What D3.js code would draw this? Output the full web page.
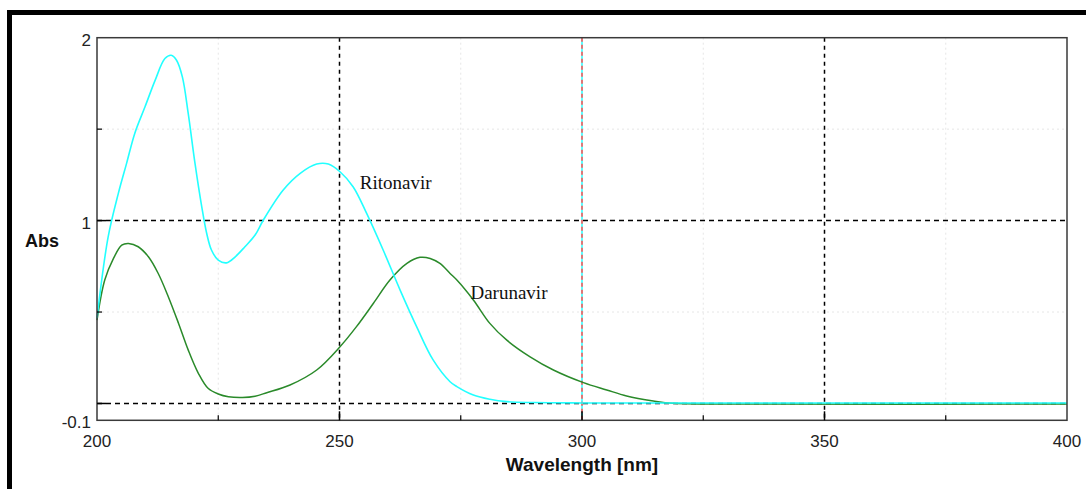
<!DOCTYPE html>
<html>
<head>
<meta charset="utf-8">
<script src="https://cdn.jsdelivr.net/npm/d3@7"></script>
<style>
  body { margin: 0; background: #fff; }
  svg { display: block; }
</style>
</head>
<body>
<div class="stage"></div>
<script>
// Ritonavir spectrum (cyan)
var ritWave = [200, 202.3, 204.4, 206.1, 207.8, 209.9, 212.0, 214.0, 215.3, 216.4, 217.6, 218.8, 220.2, 221.6, 222.6, 223.6, 225.0, 226.7, 228.5, 230.5, 232.6, 234.3, 238.4, 241.9, 245.3, 247.7, 250.1, 252.8, 255.6, 259.0, 262.5, 265.9, 269.3, 272.8, 274.2, 277.6, 281.0, 284.5, 290, 300, 350, 400];
var ritAbs  = [0.467, 0.911, 1.149, 1.313, 1.478, 1.622, 1.768, 1.886, 1.904, 1.877, 1.786, 1.587, 1.314, 1.075, 0.932, 0.839, 0.784, 0.769, 0.802, 0.857, 0.921, 1.003, 1.167, 1.258, 1.309, 1.309, 1.267, 1.185, 1.039, 0.839, 0.620, 0.420, 0.238, 0.119, 0.092, 0.046, 0.023, 0.010, 0.005, 0.003, 0.003, 0.003];

// Darunavir spectrum (green)
var darWave = [200, 201.6, 203.4, 205.1, 206.5, 208.5, 210.6, 212.6, 214.7, 216.8, 218.8, 220.9, 222.9, 225.0, 227.1, 230.0, 232.6, 235.0, 239.8, 245.3, 250.1, 253.5, 257.0, 260.4, 263.9, 266.6, 268.7, 270.7, 272.8, 274.2, 277.6, 281.0, 284.5, 289.3, 294.1, 300.3, 305.1, 309.2, 314.7, 318.8, 340, 400];
var darAbs  = [0.456, 0.675, 0.793, 0.866, 0.875, 0.857, 0.802, 0.712, 0.584, 0.439, 0.293, 0.165, 0.083, 0.052, 0.037, 0.033, 0.040, 0.059, 0.101, 0.183, 0.310, 0.420, 0.548, 0.675, 0.766, 0.799, 0.793, 0.766, 0.711, 0.675, 0.566, 0.438, 0.346, 0.255, 0.183, 0.114, 0.074, 0.041, 0.014, 0.001, -0.003, -0.003];

// axes
var xTicks = [200, 250, 300, 350, 400];
var xMinor = [225, 275, 325, 375];
var yTickValues = [-0.092, 1, 2];
var yTickLabels = ["-0.1", "1", "2"];
var yGrid = [0, 1];
var yMinor = [0.5, 1.5];
var markerWave = 300;

var labels = [
  {name: "Ritonavir", w: 254.2, a: 1.17},
  {name: "Darunavir", w: 277.0, a: 0.57}
];

var W = 1086, H = 489;
var margin = {top: 37.7, right: 19, bottom: 68.7, left: 97},
  width = W - margin.left - margin.right,
  height = H - margin.top - margin.bottom;

var svg = d3.select(".stage").append("svg")
  .attr("width", W)
  .attr("height", H);

// black frame of the window
svg.append("rect").attr("x", 7).attr("y", 10).attr("width", W - 7).attr("height", 5).attr("fill", "#000");
svg.append("rect").attr("x", 7).attr("y", 10).attr("width", 5).attr("height", H - 10).attr("fill", "#000");

var x = d3.scaleLinear()
  .domain([200, 400])
  .range([0, width]);

var y = d3.scaleLinear()
  .domain([-0.092, 2])
  .range([height, 0]);

var plot = svg.append("g")
  .attr("transform", "translate(" + margin.left + "," + margin.top + ")");

// faint minor grid
plot.selectAll(".vminor").data(xMinor).enter().append("line")
  .attr("x1", function(d) { return x(d); })
  .attr("x2", function(d) { return x(d); })
  .attr("y1", 0).attr("y2", height)
  .attr("stroke", "#e6e6e6").attr("stroke-width", 1)
  .attr("stroke-dasharray", "2,3");
plot.selectAll(".hminor").data(yMinor).enter().append("line")
  .attr("y1", function(d) { return y(d); })
  .attr("y2", function(d) { return y(d); })
  .attr("x1", 0).attr("x2", width)
  .attr("stroke", "#e6e6e6").attr("stroke-width", 1)
  .attr("stroke-dasharray", "2,3");

// dashed major grid
plot.selectAll(".vgrid").data([250, 350]).enter().append("line")
  .attr("x1", function(d) { return x(d); })
  .attr("x2", function(d) { return x(d); })
  .attr("y1", 0).attr("y2", height)
  .attr("stroke", "#000").attr("stroke-width", 1.5)
  .attr("stroke-dasharray", "4,4");
plot.selectAll(".hgrid").data(yGrid).enter().append("line")
  .attr("y1", function(d) { return y(d); })
  .attr("y2", function(d) { return y(d); })
  .attr("x1", 0).attr("x2", width)
  .attr("stroke", "#000").attr("stroke-width", 1.5)
  .attr("stroke-dasharray", "5,4");

// marker line at 300 nm (cyan under red dashes)
plot.append("line")
  .attr("x1", x(markerWave)).attr("x2", x(markerWave))
  .attr("y1", 0).attr("y2", height)
  .attr("stroke", "#33ffff").attr("stroke-width", 1.6);
plot.append("line")
  .attr("x1", x(markerWave)).attr("x2", x(markerWave))
  .attr("y1", 0).attr("y2", height)
  .attr("stroke", "#ff5555").attr("stroke-width", 1.6)
  .attr("stroke-dasharray", "4,3");

var line = d3.line()
  .curve(d3.curveCatmullRom.alpha(0.5))
  .x(function(d) { return x(d[0]); })
  .y(function(d) { return y(d[1]); });

plot.append("path")
  .datum(darWave.map(function(w, i) { return [w, darAbs[i]]; }))
  .attr("fill", "none")
  .attr("stroke", "#2a8a2a")
  .attr("stroke-width", 1.5)
  .attr("d", line);

plot.append("path")
  .datum(ritWave.map(function(w, i) { return [w, ritAbs[i]]; }))
  .attr("fill", "none")
  .attr("stroke", "#22ffff")
  .attr("stroke-width", 1.6)
  .attr("d", line);

// plot frame
plot.append("rect")
  .attr("width", width).attr("height", height)
  .attr("fill", "none")
  .attr("stroke", "#3a3a3a").attr("stroke-width", 1.5);

// ticks (inside)
plot.selectAll(".xt").data([250, 300, 350]).enter().append("line")
  .attr("x1", function(d) { return x(d); }).attr("x2", function(d) { return x(d); })
  .attr("y1", height).attr("y2", height - 9)
  .attr("stroke", "#000").attr("stroke-width", 1.5);
plot.selectAll(".xmt").data(xMinor).enter().append("line")
  .attr("x1", function(d) { return x(d); }).attr("x2", function(d) { return x(d); })
  .attr("y1", height).attr("y2", height - 5)
  .attr("stroke", "#000").attr("stroke-width", 1.2);
plot.selectAll(".yt").data(yGrid).enter().append("line")
  .attr("y1", function(d) { return y(d); }).attr("y2", function(d) { return y(d); })
  .attr("x1", 0).attr("x2", 9)
  .attr("stroke", "#000").attr("stroke-width", 1.5);
plot.selectAll(".ymt").data(yMinor).enter().append("line")
  .attr("y1", function(d) { return y(d); }).attr("y2", function(d) { return y(d); })
  .attr("x1", 0).attr("x2", 5)
  .attr("stroke", "#000").attr("stroke-width", 1.2);

// tick labels
plot.selectAll(".xlab").data(xTicks).enter().append("text")
  .attr("x", function(d) { return x(d); })
  .attr("y", height + 27)
  .attr("text-anchor", "middle")
  .attr("font-family", "Liberation Sans, Arial, sans-serif")
  .attr("font-size", "17px")
  .attr("fill", "#222")
  .text(function(d) { return d; });

plot.selectAll(".ylab").data(yTickValues).enter().append("text")
  .attr("x", -6)
  .attr("y", function(d) { return y(d) + 8; })
  .attr("text-anchor", "end")
  .attr("font-family", "Liberation Sans, Arial, sans-serif")
  .attr("font-size", "17px")
  .attr("fill", "#222")
  .text(function(d, i) { return yTickLabels[i]; });

// axis titles
svg.append("text")
  .attr("x", margin.left + x(300))
  .attr("y", 471)
  .attr("text-anchor", "middle")
  .attr("font-family", "Liberation Sans, Arial, sans-serif")
  .attr("font-weight", "bold")
  .attr("font-size", "19px")
  .attr("fill", "#111")
  .text("Wavelength [nm]");

svg.append("text")
  .attr("x", 25)
  .attr("y", 247)
  .attr("font-family", "Liberation Sans, Arial, sans-serif")
  .attr("font-weight", "bold")
  .attr("font-size", "18px")
  .attr("fill", "#111")
  .text("Abs");

// curve names
plot.selectAll(".name").data(labels).enter().append("text")
  .attr("x", function(d) { return x(d.w); })
  .attr("y", function(d) { return y(d.a); })
  .attr("font-family", "Liberation Serif, Times New Roman, serif")
  .attr("font-size", "19px")
  .attr("fill", "#111")
  .text(function(d) { return d.name; });
</script>
</body>
</html>
